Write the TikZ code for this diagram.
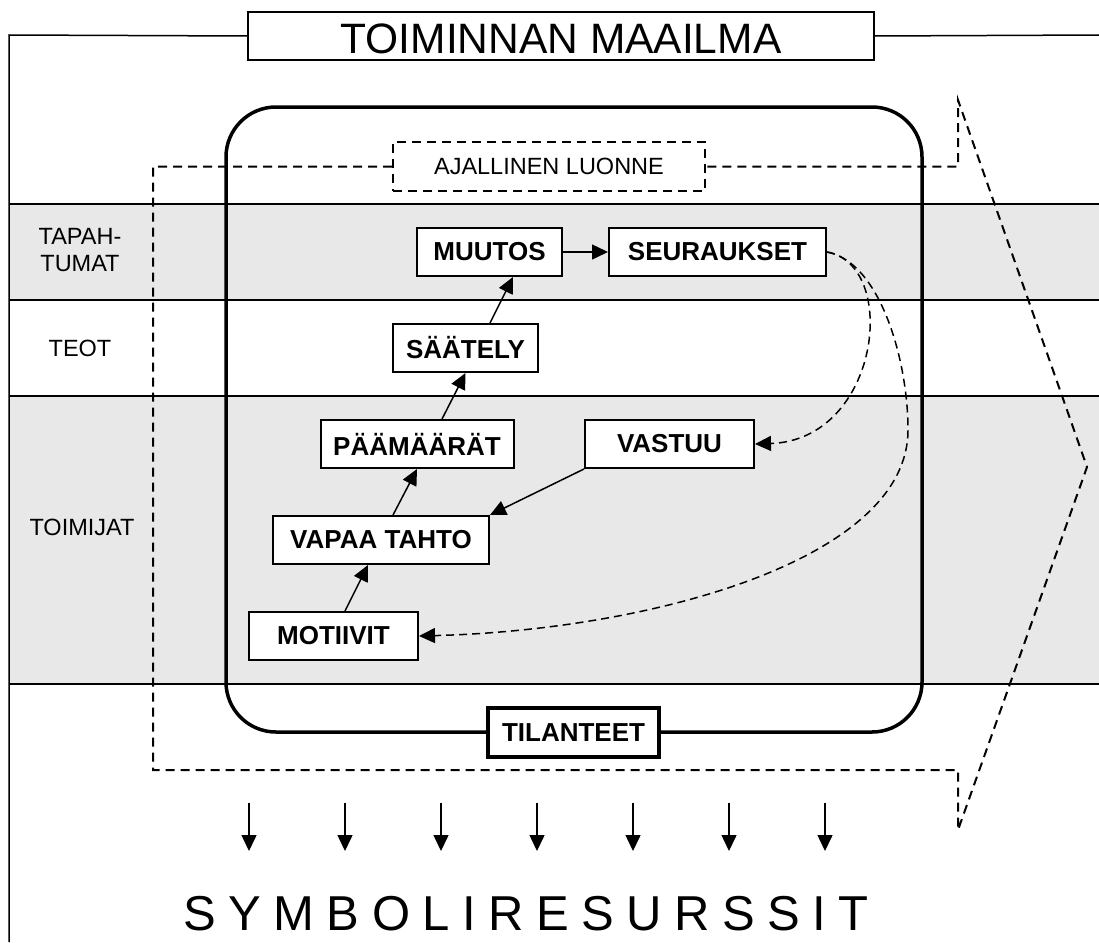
\documentclass[tikz,border=0pt]{standalone}
\usepackage{fontspec}
\setmainfont{Liberation Sans}
\newfontfamily\spacedfont[LetterSpace=25.5]{Liberation Sans}
\usetikzlibrary{arrows.meta}
\definecolor{bandgray}{HTML}{E8E8E8}

\begin{document}
\begin{tikzpicture}[x=1pt, y=-1pt,
    concept/.style={draw, line width=2pt, fill=white, minimum height=48, inner sep=0pt, font=\fontsize{26}{30}\selectfont\bfseries},
    bandlabel/.style={align=center, inner sep=0pt, font=\fontsize{23.5}{27}\selectfont},
    tip/.style={-{Triangle[length=16pt, width=15pt]}},
    link/.style={tip, line width=1.5pt},
    feedback/.style={tip, line width=1.5pt, dash pattern=on 8pt off 5pt},
    border/.style={line width=2pt, dash pattern=on 9pt off 6pt}]
        \useasboundingbox (0,0) rectangle (1099,942);
        % Bands (top to bottom)
        \fill[bandgray] (9,204) rectangle (1099,300);
        \fill[bandgray] (9,396) rectangle (1099,684);
        \foreach \y in {204,300,396,684}
          \draw[line width=1.5pt] (9,\y) -- (1099,\y);
        \node (tapahtumat) at (80,250) [bandlabel] {TAPAH-\\TUMAT};
        \node (teot) at (80,348) [bandlabel] {TEOT};
        \node (toimijat) at (82,527) [bandlabel] {TOIMIJAT};
        % Frame and title
        \node (title) at (561,36) [draw, line width=2pt, fill=white, minimum width=626, minimum height=48, inner sep=0pt, text height=36, text depth=0, font=\fontsize{42.5}{48}\selectfont] {TOIMINNAN MAAILMA};
        \draw[line width=1.5pt] (9,942) -- (9,35) -- (title.west);
        \draw[line width=1.5pt] (title.east) -- (1099,35);
        % Time arrow
        \node (ajallinen) at (549,166.5) [draw, border, fill=white, minimum width=312, minimum height=49, inner sep=0pt, font=\fontsize{23.5}{27}\selectfont] {AJALLINEN LUONNE};
        \draw[border] (ajallinen.west) -| (153,770) -- (958,770) -- (958,830) -- (1087,467) -- (958,100) -- (958,166.5) -- (ajallinen.east);
        % Situations
        \draw[line width=3.5pt, rounded corners=50pt] (226,107) rectangle (922,732);
        \node (tilanteet) at (573.5,732.5) [concept, line width=3.5pt, minimum width=171, minimum height=49] {TILANTEET};
        % Nodes (bottom to top)
        \node (motiivit) at (333.5,636) [concept, minimum width=169] {MOTIIVIT};
        \node (vapaa) at (381,540) [concept, minimum width=216] {VAPAA TAHTO};
        \node (paamaarat) at (417,444) [concept, minimum width=193] {PÄÄMÄÄRÄT};
        \node (vastuu) at (669.5,444) [concept, minimum width=169] {VASTUU};
        \node (saately) at (465.5,348) [concept, minimum width=145] {SÄÄTELY};
        \node (muutos) at (489.5,252) [concept, minimum width=145] {MUUTOS};
        \node (seuraukset) at (717.5,252) [concept, minimum width=217] {SEURAUKSET};
        % Edges
        \draw[link] ([xshift=11.5]motiivit.north) -- ([xshift=-13]vapaa.south);
        \draw[link] ([xshift=12]vapaa.north) -- (paamaarat.south);
        \draw[link] ([xshift=25]paamaarat.north) -- (saately.south);
        \draw[link] ([xshift=24.5]saately.north) -- ([xshift=23.5]muutos.south);
        \draw[link] (muutos) -- (seuraukset);
        \draw[link] (vastuu.south west) -- (vapaa.north east);
        \draw[feedback] (seuraukset.east) .. controls (900,265) and (880,440) .. (vastuu.east);
        \draw[feedback] (seuraukset.east) .. controls (880,262) and (908,360) .. (908,430)
          .. controls (908,560) and (650,630) .. (motiivit.east);
        % Symbol resources
        \foreach \x [count=\i] in {249,345,...,825} {
          \coordinate (src\i) at (\x,803);
          \coordinate (dst\i) at (\x,851);
          \draw[link] (src\i) -- (dst\i);
        }
        \node (symbolit) at (183,930) [anchor=base west, inner sep=0pt, font=\spacedfont\fontsize{49}{56}\selectfont] {SYMBOLIRESURSSIT};
      \end{tikzpicture}
\end{document}
